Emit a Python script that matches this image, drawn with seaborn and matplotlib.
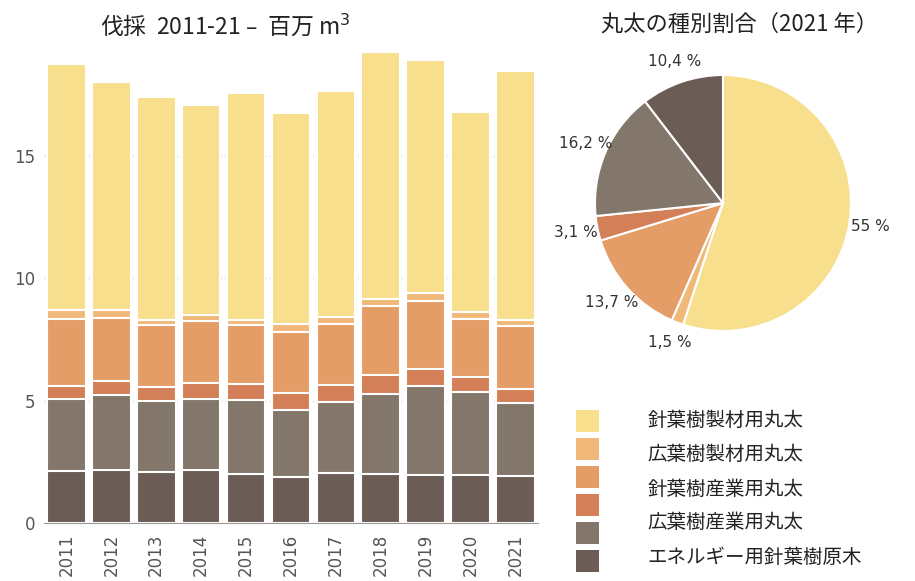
import pandas as pd
import seaborn as sns
import matplotlib.pyplot as plt
from matplotlib.patches import Rectangle

# データ（百万 m3）
years = ["2011", "2012", "2013", "2014", "2015", "2016", "2017", "2018", "2019", "2020", "2021"]
legend_labels = ["針葉樹製材用丸太", "広葉樹製材用丸太", "針葉樹産業用丸太",
                 "広葉樹産業用丸太", "エネルギー用針葉樹原木"]

con_saw = [10.06, 9.33, 9.10, 8.60, 9.27, 8.65, 9.24, 10.07, 9.54, 8.19, 10.17]
broad_saw = [0.34, 0.34, 0.20, 0.26, 0.23, 0.33, 0.30, 0.31, 0.31, 0.27, 0.27]
con_ind = [2.76, 2.56, 2.55, 2.51, 2.40, 2.49, 2.49, 2.79, 2.79, 2.37, 2.56]
broad_ind = [0.52, 0.60, 0.59, 0.65, 0.67, 0.68, 0.72, 0.79, 0.68, 0.61, 0.57]
other = [2.96, 3.04, 2.90, 2.91, 3.03, 2.75, 2.89, 3.26, 3.67, 3.41, 3.00]
energy = [2.11, 2.18, 2.07, 2.18, 1.99, 1.88, 2.04, 2.02, 1.95, 1.95, 1.91]

# 2021 年の割合（%）
pie_share = [55, 1.5, 13.7, 3.1, 16.2, 10.4]
pie_text = ["55 %", "1,5 %", "13,7 %", "3,1 %", "16,2 %", "10,4 %"]

colors = ["#F8DF8E", "#F0B97A", "#E59D68", "#D37F57", "#83766A", "#6B5C55"]

sns.set_style("whitegrid")
plt.rcParams['font.family'] = ['DejaVu Sans', 'Noto Sans CJK JP']
jp = ['Noto Sans CJK JP', 'DejaVu Sans']

df = pd.DataFrame({"year": years, "con_saw": con_saw, "broad_saw": broad_saw,
                   "con_ind": con_ind, "broad_ind": broad_ind,
                   "other": other, "energy": energy})
layers = ["energy", "other", "broad_ind", "con_ind", "broad_saw", "con_saw"]
layer_colors = colors[::-1]

fig = plt.figure(figsize=(9.15, 5.81), dpi=100)
ax = fig.add_axes([0.048, 0.0998, 0.54, 0.8167])

# 積み上げ：上の層から累積値で描く
cum = df[layers].cumsum(axis=1)
for name, col in zip(layers[::-1], layer_colors[::-1]):
    sns.barplot(x=df["year"], y=cum[name], color=col, ax=ax, width=0.86,
                edgecolor="white", linewidth=1.5, saturation=1)

ax.set_ylim(0, 19.4)
ax.set_xlim(-0.5, 10.5)
ax.set_xlabel("")
ax.set_ylabel("")
ax.set_yticks([0, 5, 10, 15])
ax.grid(axis="y", color="#dddddd", linestyle=":", linewidth=1)
ax.grid(axis="x", visible=False)
for s in ["left", "top", "right"]:
    ax.spines[s].set_visible(False)
ax.spines["bottom"].set_color("#999999")
ax.tick_params(axis="both", colors="#555555", labelsize=12, length=4, width=1.2,
               labelcolor="#555555")
ax.tick_params(axis="x", rotation=90)
ax.tick_params(axis="y", pad=2)

fig.text(0.246, 0.957, "伐採  2011-21 –  百万 m$^3$", ha="center", va="center",
         fontsize=16.5, family=jp, color="#222222")

# 円グラフ
pax = fig.add_axes([0.6153, 0.3752, 0.3497, 0.5508])
wedges, texts = pax.pie(pie_share, colors=colors, startangle=90, counterclock=False,
                        labels=pie_text, labeldistance=1.17,
                        wedgeprops=dict(edgecolor="white", linewidth=1.5),
                        textprops=dict(color="#333333", fontsize=11))
for t in texts:
    t.set_ha("center")
    t.set_va("center")
pax.set_aspect("equal")
fig.text(0.808, 0.958, "丸太の種別割合（2021 年）", ha="center", va="center",
         fontsize=16, family=jp, color="#222222")

# 凡例
sq_y = [0.2565 - 0.0482 * i for i in range(6)]
txt_y = [0.277, 0.217, 0.158, 0.100, 0.041]
for c, y in zip(colors, sq_y):
    fig.add_artist(Rectangle((0.6295, y), 0.0251, 0.038, transform=fig.transFigure,
                             facecolor=c, edgecolor="none"))
for lab, y in zip(legend_labels, txt_y):
    fig.text(0.708, y, lab, ha="left", va="center", fontsize=14, family=jp, color="#222222")

fig.savefig("out.png", dpi=100)
